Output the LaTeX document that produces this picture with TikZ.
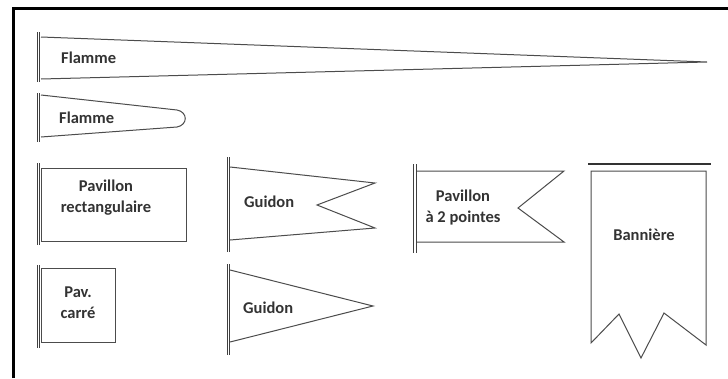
\documentclass[tikz,border=0pt]{standalone}
\usepackage{fontspec}
\setmainfont{Carlito}
\begin{document}
\begin{tikzpicture}[x=1pt,y=-1pt,
  flag/.style={draw=black!70, line width=1pt, line join=miter},
  poleline/.style={draw=black!75, line width=0.9pt},
  lbl/.style={font=\fontsize{16.5}{21}\selectfont\bfseries, text=black!80, align=center, inner sep=0pt}]
\useasboundingbox (0,0) rectangle (728,378);
\fill[white] (0,0) rectangle (728,378);
\newcommand{\flagpole}[3]{%
  \draw[poleline] (#1-1.3,#2) -- (#1-1.3,#3);
  \draw[poleline] (#1+1.3,#2) -- (#1+1.3,#3);}
% frame
\draw[line width=3pt] (13.5,378) -- (13.5,8) -- (728,8);
% Flamme 1
\draw[flag] (41,37) -- (707,62) -- (41,79);
\flagpole{38.5}{32}{82}
\node[lbl, anchor=west] (f1) at (61,58) {Flamme};
% Flamme 2
\draw[flag] (41,95) -- (177,110) .. controls (188,112) and (188,125) .. (177,127) -- (41,137);
\flagpole{38.5}{93}{142}
\node[lbl, anchor=west] (f2) at (59,118) {Flamme};
% Pavillon rectangulaire
\draw[flag] (41,168) rectangle (186,241);
\flagpole{38.5}{163}{245}
\node[lbl] (pr) at (106,198) {Pavillon\\rectangulaire};
% Pav. carre
\draw[flag] (41,268) rectangle (115,342);
\flagpole{38.5}{265}{348}
\node[lbl] (pc) at (78,303) {Pav.\\carré};
% Guidon 1
\draw[flag] (230,167) -- (375,183) -- (317,205) -- (375,228) -- (230,240);
\flagpole{228.5}{157}{252}
\node[lbl, anchor=west] (g1) at (244,202) {Guidon};
% Guidon 2
\draw[flag] (230,270) -- (373,306) -- (230,342);
\flagpole{228.5}{264}{355}
\node[lbl, anchor=west] (g2) at (243,308) {Guidon};
% Pavillon a 2 pointes
\draw[flag] (416,171) -- (564,171) -- (518,208) -- (564,242) -- (416,242);
\flagpole{415}{164}{253}
\node[lbl] (p2) at (463,208) {Pavillon\\à 2 pointes};
% Banniere
\draw[black!80, line width=2.2pt] (588,164) -- (711,164);
\draw[flag] (591,171) -- (706,171) -- (706,345) -- (664,313) -- (641,358) -- (619,314) -- (591,343) -- cycle;
\node[lbl] (bn) at (644,235) {Bannière};
\end{tikzpicture}
\end{document}
